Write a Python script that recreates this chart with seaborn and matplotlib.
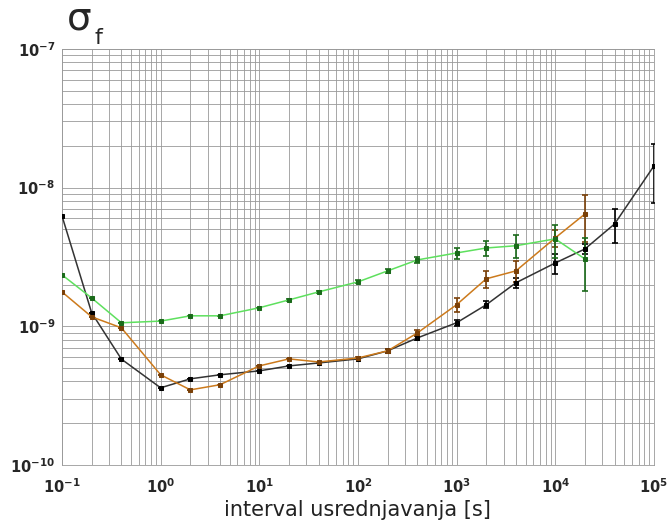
import numpy as np
import pandas as pd
import matplotlib
matplotlib.use("Agg")
import matplotlib.pyplot as plt
import seaborn as sns

# averaging intervals [s]
tau = [0.1, 0.2, 0.4, 1, 2, 4, 10, 20, 40, 100, 200, 400, 1000, 2000, 4000,
       10000, 20000, 40000, 100000]

black_sigma = [6.25e-9, 1.25e-9, 5.8e-10, 3.6e-10, 4.18e-10, 4.47e-10, 4.77e-10,
               5.18e-10, 5.44e-10, 5.82e-10, 6.65e-10, 8.24e-10, 1.06e-9, 1.43e-9,
               2.06e-9, 2.86e-9, 3.61e-9, 5.47e-9, 1.43e-8]
black_err = [0, 0, 0, 0, 0, 0, 0, 0, 0, 0, 0.02e-9, 0.03e-9, 0.05e-9, 0.08e-9,
             0.17e-9, 0.47e-9, 0.3e-9, 1.5e-9, 0.65e-8]

orange_sigma = [1.77e-9, 1.17e-9, 9.75e-10, 4.47e-10, 3.48e-10, 3.79e-10, 5.18e-10,
                5.82e-10, 5.53e-10, 5.91e-10, 6.65e-10, 8.95e-10, 1.43e-9, 2.2e-9,
                2.51e-9, 4.34e-9, 6.45e-9]
orange_err = [0, 0, 0, 0, 0, 0, 0, 0, 0, 0.01e-9, 0.02e-9, 0.05e-9, 0.16e-9, 0.3e-9,
              0.43e-9, 0.6e-9, 2.4e-9]

green_sigma = [2.35e-9, 1.6e-9, 1.06e-9, 1.09e-9, 1.19e-9, 1.19e-9, 1.36e-9,
               1.55e-9, 1.77e-9, 2.09e-9, 2.51e-9, 3.01e-9, 3.38e-9, 3.67e-9,
               3.81e-9, 4.27e-9, 3.06e-9]
green_err = [0, 0, 0, 0, 0, 0, 0, 0.02e-9, 0.03e-9, 0.05e-9, 0.08e-9, 0.15e-9,
             0.3e-9, 0.48e-9, 0.72e-9, 1.15e-9, 1.25e-9]

series = [
    ("black", black_sigma, black_err, "#333333", "#000000"),
    ("orange", orange_sigma, orange_err, "#cc7a1c", "#7a4008"),
    ("green", green_sigma, green_err, "#5ee05e", "#1a6a1a"),
]

sns.set_style("white")
plt.rcParams['font.family'] = ['DejaVu Sans']

fig = plt.figure(figsize=(6.68, 5.32), dpi=100)
ax = fig.add_axes([0.0928, 0.126, 0.886, 0.782])

for name, sig, err, col, mcol in series:
    n = len(sig)
    df = pd.DataFrame({"tau": tau[:n], "sigma": sig})
    ax.errorbar(tau[:n], sig, yerr=err, fmt="none", ecolor=mcol, elinewidth=1.2,
                capsize=2.5, capthick=1.2, zorder=3)
    sns.lineplot(data=df, x="tau", y="sigma", ax=ax, color=col, linewidth=1.1,
                 marker="s", markersize=3.5, markerfacecolor=mcol,
                 markeredgecolor=mcol, zorder=4)

ax.set_xscale("log")
ax.set_yscale("log")
ax.set_xlim(0.1, 1e5)
ax.set_ylim(1e-10, 1e-7)

ticker = matplotlib.ticker
ax.xaxis.set_major_locator(ticker.LogLocator(base=10, numticks=10))
ax.xaxis.set_minor_locator(ticker.LogLocator(base=10, subs=np.arange(2, 10), numticks=20))
ax.yaxis.set_major_locator(ticker.LogLocator(base=10, numticks=10))
ax.yaxis.set_minor_locator(ticker.LogLocator(base=10, subs=np.arange(2, 10), numticks=20))
ax.xaxis.set_minor_formatter(ticker.NullFormatter())
ax.yaxis.set_minor_formatter(ticker.NullFormatter())
ax.grid(True, which="both", color="#999999", linewidth=0.6)

ax.tick_params(axis="both", which="both", length=0)
ax.tick_params(axis="x", labelsize=10.5, pad=9)
ax.tick_params(axis="y", labelsize=10.5, pad=5)
for lab in ax.get_yticklabels():
    lab.set_fontweight("bold")
for lab in ax.get_xticklabels():
    lab.set_fontweight("bold")

for sp in ax.spines.values():
    sp.set_color("#999999")
    sp.set_linewidth(0.6)

ax.set_xlabel("interval usrednjavanja [s]", fontsize=15, color="#222222", labelpad=3)
ax.set_ylabel(None)
fig.text(0.100, 0.930, "σ", fontsize=28, ha="left", va="bottom")
fig.text(0.142, 0.910, "f", fontsize=16, ha="left", va="bottom")

fig.savefig("out.png", dpi=100)
